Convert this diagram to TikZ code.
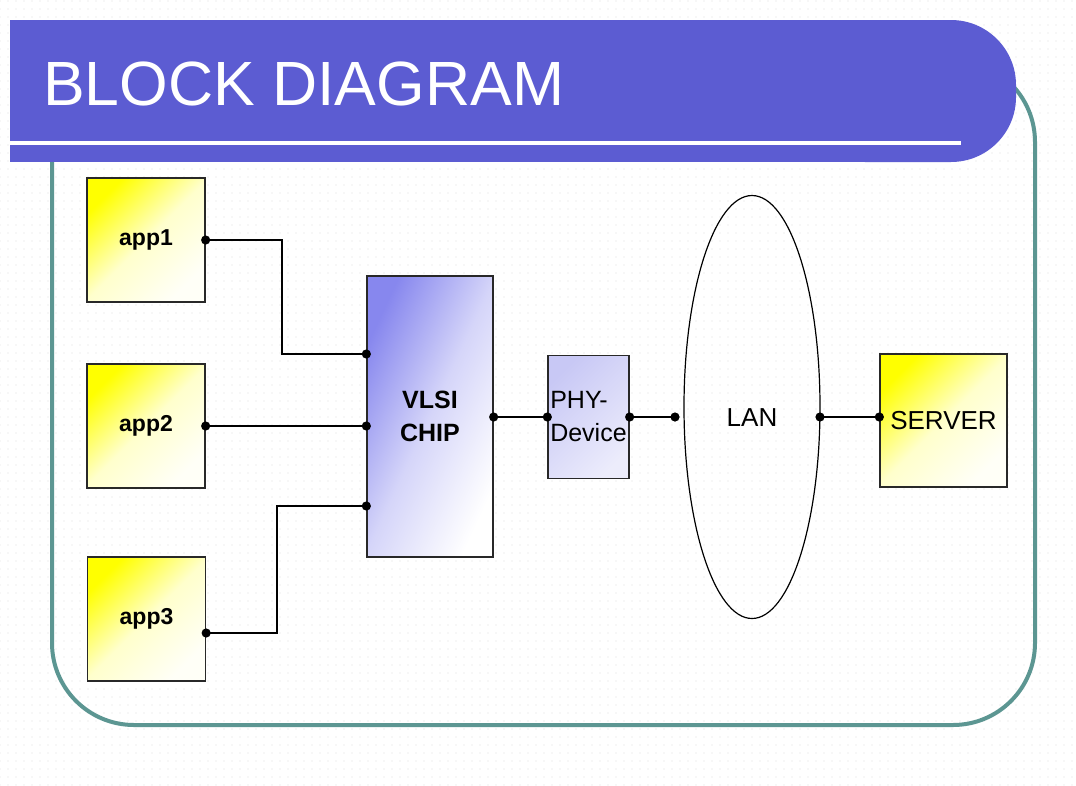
\documentclass[tikz,border=0pt]{standalone}
\usepackage{fontspec}
\setmainfont{Liberation Sans}
\usetikzlibrary{shapes.geometric,calc,patterns.meta}
\definecolor{bandblue}{RGB}{92,92,210}
\definecolor{frameteal}{RGB}{92,150,146}
\definecolor{chipblue}{RGB}{135,135,238}
\definecolor{phyblue}{RGB}{200,200,245}
\definecolor{boxline}{RGB}{40,40,40}
\begin{document}
\begin{tikzpicture}[x=1pt,y=-1pt,
  yellowbox/.style={draw=boxline, line width=1.3pt, shade, shading=axis,
    top color=yellow, bottom color=yellow!3, middle color=yellow!20, shading angle=45,
    minimum width=118pt, minimum height=124pt, inner sep=0pt},
  appbox/.style={yellowbox, font=\fontsize{23}{26}\selectfont\bfseries},
  chipbox/.style={draw=boxline, line width=1.3pt, shade, shading=axis,
    top color=chipblue, bottom color=white, middle color=chipblue!35, shading angle=65,
    minimum width=126pt, minimum height=281pt, inner sep=0pt, align=center,
    font=\fontsize{25}{33}\selectfont\bfseries},
  phybox/.style={draw=boxline, line width=1.3pt, shade, shading=axis,
    top color=phyblue, bottom color=phyblue!35, shading angle=45,
    minimum width=81pt, minimum height=123pt, inner sep=0pt, align=left,
    font=\fontsize{25}{33}\selectfont},
  wire/.style={line width=1.3pt, black},
  dot/.style={fill=black}
]
\useasboundingbox (0,0) rectangle (1076,785);
\fill[white] (0,0) rectangle (1076,785);
\fill[pattern={Dots[distance=8pt, radius=0.6pt]}, pattern color=black!12] (0,0) rectangle (1076,785);

% frame
\draw[frameteal, line width=4pt, rounded corners=82pt] (52,60) rectangle (1035,725);

% header band
\fill[bandblue] (10,20) rectangle (951,162);
\fill[bandblue, rounded corners=65pt] (800,20) rectangle (1016,162);
\fill[white] (10,141) rectangle (961,145);
\node[anchor=base west, inner sep=0pt, text=white, font=\fontsize{62.5}{62.5}\selectfont] (title) at (43,105) {BLOCK DIAGRAM};

% blocks
\node[appbox] (app1) at (146,240) {app1};
\node[appbox] (app2) at (146,426) {app2};
\node[appbox] (app3) at (146.5,619) {app3};
\node[chipbox] (vlsi) at (430,416.5) {VLSI\\CHIP};
\node[phybox] (phy) at (588.5,417) {PHY-\\Device};
\node[draw=black, line width=1.2pt, ellipse, minimum width=136pt, minimum height=423pt, inner sep=0pt] (lan) at (752,407) {};
\node[font=\fontsize{26}{26}\selectfont] (lantext) at (752,418) {LAN};
\node[yellowbox, minimum width=127pt, minimum height=133pt, font=\fontsize{26}{26}\selectfont] (server) at (943.5,420.5) {SERVER};

% connection points
\coordinate (v1) at ([yshift=62.5pt]vlsi.west);
\coordinate (v2) at (vlsi.west |- app2.east);
\coordinate (v3) at ([yshift=-89.5pt]vlsi.west);
\coordinate (a3o) at ([yshift=-14pt]app3.east);
\coordinate (vo) at (vlsi.east |- phy.west);
\coordinate (lanL) at (675,417);
\coordinate (lanR) at (820,417);
\coordinate (srvL) at (lanR -| server.west);

% wires
\draw[wire] (app1.east) -| (282,354) -- (v1);
\draw[wire] (app2.east) -- (v2);
\draw[wire] (a3o) -| (277,506) -- (v3);
\draw[wire] (vo) -- (phy.west);
\draw[wire] (phy.east) -- (lanL);
\draw[wire] (lanR) -- (srvL);

% dots
\foreach \p in {app1.east, app2.east, a3o, v1, v2, v3, vo, phy.west, phy.east, lanL, lanR, srvL}
  \fill[dot] (\p) circle (4.6pt);
\end{tikzpicture}
\end{document}
